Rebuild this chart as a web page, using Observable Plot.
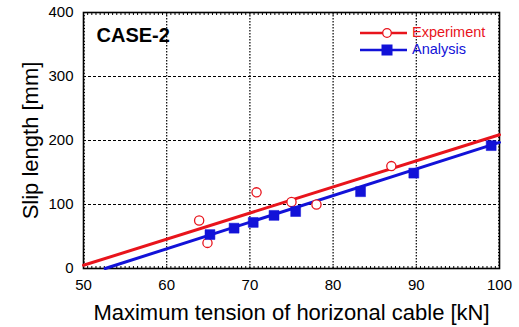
<!DOCTYPE html>
<html>
<head>
<meta charset="utf-8">
<script src="https://cdn.jsdelivr.net/npm/d3@7"></script>
<script src="https://cdn.jsdelivr.net/npm/@observablehq/plot@0.6"></script>
<style>
  body { margin: 0; background: #fff; }
  #wrap { position: relative; width: 519px; height: 327px; font-family: "Liberation Sans", Arial, sans-serif; }
  .leg { position: absolute; font-size: 14.5px; line-height: 1; }
</style>
</head>
<body>
<div id="wrap"></div>
<script>
// Experiment (open circles)
const expTension = [63.9, 64.9, 70.8, 75.0, 78.0, 87.0];
const expSlip    = [75, 40, 119, 104, 100, 160];
// Analysis (filled squares)
const anaTension = [65.2, 68.1, 70.4, 72.9, 75.5, 83.3, 89.7, 99.0];
const anaSlip    = [53, 63, 72, 83, 89, 120, 149, 192];
// Fitted lines
const expFitTension = [50, 100];
const expFitSlip    = [5, 209];
const anaFitTension = [52.6, 100];
const anaFitSlip    = [0, 197];
// Tick labels
const xTicks = [50, 60, 70, 80, 90, 100];
const yTicks = [0, 100, 200, 300, 400];

const RED = "#e8141c";
const BLUE = "#1212d8";

const toRows = (xs, ys) => xs.map((x, i) => ({x, y: ys[i]}));
const expPts = toRows(expTension, expSlip);
const anaPts = toRows(anaTension, anaSlip);
const expFit = toRows(expFitTension, expFitSlip);
const anaFit = toRows(anaFitTension, anaFitSlip);

const noText = () => "";
const yMinor = d3.range(0, 401, 5);
const xMinor = d3.range(50, 100.01, 0.5);

const chart = Plot.plot({
  width: 519,
  height: 327,
  marginLeft: 83,
  marginRight: 20,
  marginTop: 12,
  marginBottom: 59,
  style: {fontFamily: "Liberation Sans, Arial, sans-serif", background: "white", color: "black"},
  x: {domain: [50, 100]},
  y: {domain: [0, 400]},
  marks: [
    Plot.gridX(xTicks.slice(1, -1), {stroke: "black", strokeOpacity: 1, strokeWidth: 1.2, strokeDasharray: "1.5,1.5"}),
    Plot.gridY(yTicks.slice(1, -1), {stroke: "black", strokeOpacity: 1, strokeWidth: 1, strokeDasharray: "3,2"}),
    Plot.axisY(yMinor, {anchor: "left", tickSize: 2, dx: 2, tickFormat: noText, label: null, strokeWidth: 1}),
    Plot.axisY(yMinor, {anchor: "right", tickSize: 2, dx: -2, tickFormat: noText, label: null, strokeWidth: 1}),
    Plot.axisX(xMinor, {anchor: "bottom", tickSize: 2, dy: -2, tickFormat: noText, label: null, strokeWidth: 1}),
    Plot.axisX(xMinor, {anchor: "top", tickSize: 2, dy: 2, tickFormat: noText, label: null, strokeWidth: 1}),
    Plot.axisX(xTicks, {anchor: "bottom", tickSize: 0, tickPadding: 11, fontSize: 15, label: null}),
    Plot.axisY(yTicks, {anchor: "left", tickSize: 0, tickPadding: 10, fontSize: 15, label: null}),
    Plot.frame({stroke: "black", strokeWidth: 1.6}),
    Plot.line(expFit, {x: "x", y: "y", stroke: RED, strokeWidth: 3}),
    Plot.line(anaFit, {x: "x", y: "y", stroke: BLUE, strokeWidth: 3}),
    Plot.dot(expPts, {x: "x", y: "y", r: 4.6, stroke: RED, fill: "white", strokeWidth: 1.3}),
    Plot.dot(anaPts, {x: "x", y: "y", symbol: "square", r: 5.6, fill: BLUE, stroke: BLUE, strokeWidth: 0.5}),
    Plot.text(["CASE-2"], {frameAnchor: "top-left", dx: 13, dy: 23, textAnchor: "start", lineAnchor: "middle", fontSize: 20, fontWeight: "bold", fill: "black"}),
    Plot.text(["Maximum tension of horizonal cable [kN]"], {frameAnchor: "bottom", dy: 44, lineAnchor: "middle", fontSize: 22, fill: "black"}),
    Plot.text(["Slip length [mm]"], {frameAnchor: "left", dx: -53, rotate: -90, textAnchor: "middle", lineAnchor: "middle", fontSize: 22, fill: "black"})
  ]
});

const wrap = document.getElementById("wrap");
wrap.appendChild(chart);

// Legend overlay
const legendItems = [
  {label: "Experiment", color: RED, marker: "circle", top: 33},
  {label: "Analysis", color: BLUE, marker: "square", top: 50}
];
for (const it of legendItems) {
  const sw = document.createElementNS("http://www.w3.org/2000/svg", "svg");
  sw.setAttribute("width", 50); sw.setAttribute("height", 14);
  sw.style.position = "absolute"; sw.style.left = "359px"; sw.style.top = (it.top - 7) + "px";
  sw.innerHTML = `<line x1="1" x2="48" y1="7" y2="7" stroke="${it.color}" stroke-width="2.5"/>` +
    (it.marker === "circle"
      ? `<circle cx="28" cy="7" r="4.3" fill="white" stroke="${it.color}" stroke-width="1.3"/>`
      : `<rect x="22.5" y="1.5" width="11" height="11" fill="${it.color}"/>`);
  wrap.appendChild(sw);
  const t = document.createElement("div");
  t.className = "leg";
  t.textContent = it.label;
  t.style.left = "412px"; t.style.top = (it.top - 8) + "px"; t.style.color = it.color;
  wrap.appendChild(t);
}
</script>
</body>
</html>
